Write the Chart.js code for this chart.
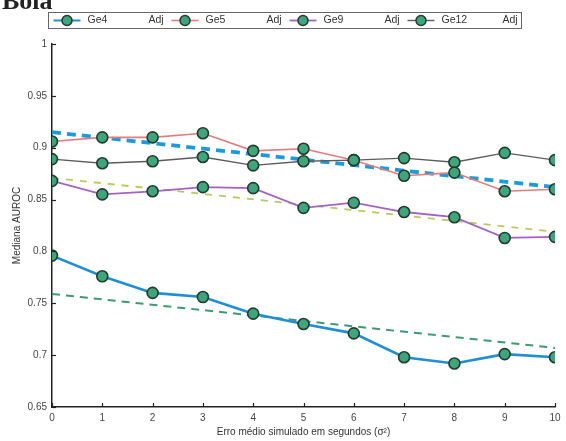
<!DOCTYPE html>
<html>
<head>
<meta charset="utf-8">
<script src="https://cdn.jsdelivr.net/npm/chart.js@4/dist/chart.umd.min.js"></script>
<style>
  html, body { margin: 0; padding: 0; background: #fff; }
  #wrap { width: 566px; height: 441px; position: relative; }
</style>
</head>
<body>
<div id="wrap"><canvas id="grafico"></canvas></div>
<script>
// ================================
// Dados (mediana AUROC por erro simulado)
// ================================
const errosSimulados = [0, 1, 2, 3, 4, 5, 6, 7, 8, 9, 10]
const ge4 = [0.796, 0.776, 0.760, 0.756, 0.740, 0.730, 0.721, 0.698, 0.692, 0.701, 0.698]
const ge5 = [0.906, 0.910, 0.910, 0.914, 0.897, 0.899, 0.888, 0.873, 0.876, 0.858, 0.860]
const ge9 = [0.868, 0.855, 0.858, 0.862, 0.861, 0.842, 0.847, 0.838, 0.833, 0.813, 0.814]
const ge12 = [0.889, 0.885, 0.887, 0.891, 0.883, 0.887, 0.888, 0.890, 0.886, 0.895, 0.888]

// retas ajustadas (extremos)
const ajusteX = [0, 10]
const ge4Adj = [0.759, 0.707]
const ge5Adj = [0.915, 0.862]
const ge9Adj = [0.871, 0.819]

const ticksY = [0.65, 0.7, 0.75, 0.8, 0.85, 0.9, 0.95, 1]
const series = ["Ge4", "Ge5", "Ge9", "Ge12"]

const FONTE = "'Liberation Sans', Arial, sans-serif"
const corMarcador = "#3fa57b"
const corBordaMarcador = "#243a30"

function pontos(xs, ys) {
  return xs.map((x, i) => ({ x: x, y: ys[i] }))
}

function serie(label, ys, cor, largura) {
  return {
    label: label,
    data: pontos(errosSimulados, ys),
    borderColor: cor,
    borderWidth: largura,
    pointRadius: 5.5,
    pointBackgroundColor: corMarcador,
    pointBorderColor: corBordaMarcador,
    pointBorderWidth: 1.6,
    tension: 0,
  }
}

function ajuste(label, ys, cor, largura, traco) {
  return {
    label: label,
    data: pontos(ajusteX, ys),
    borderColor: cor,
    borderWidth: largura,
    borderDash: traco,
    pointRadius: 0,
    tension: 0,
  }
}

// ================================
// Plugin: título, legenda e marcas dos eixos
// ================================
const extras = {
  id: "extras",
  afterDraw(chart) {
    const ctx = chart.ctx
    const { x, y } = chart.scales
    ctx.save()

    // título (cortado no topo)
    ctx.fillStyle = "#222"
    ctx.font = "bold 26px 'Liberation Serif', 'Times New Roman', serif"
    ctx.textBaseline = "alphabetic"
    ctx.textAlign = "left"
    ctx.fillText("Bola", 2, 9)

    // marcas dos eixos para dentro
    ctx.strokeStyle = "#222"
    ctx.lineWidth = 1.2
    ticksY.forEach((v) => {
      const py = Math.round(y.getPixelForValue(v)) + 0.5
      ctx.beginPath()
      ctx.moveTo(x.left, py)
      ctx.lineTo(x.left + 4, py)
      ctx.stroke()
    })
    errosSimulados.forEach((v) => {
      const px = Math.round(x.getPixelForValue(v)) + 0.5
      ctx.beginPath()
      ctx.moveTo(px, y.bottom)
      ctx.lineTo(px, y.bottom - 4)
      ctx.stroke()
    })

    // legenda horizontal: série + "Adj" em cada grupo
    const caixa = { l: 48.5, t: 12.5, r: 521.5, b: 28.5 }
    ctx.fillStyle = "#fff"
    ctx.fillRect(caixa.l, caixa.t, caixa.r - caixa.l, caixa.b - caixa.t)
    ctx.strokeStyle = "#666"
    ctx.lineWidth = 1
    ctx.strokeRect(caixa.l, caixa.t, caixa.r - caixa.l, caixa.b - caixa.t)

    const cy = 20.5
    const passo = 118
    ctx.font = "10.5px " + FONTE
    ctx.textBaseline = "middle"
    series.forEach((nome, i) => {
      const x0 = caixa.l + 5 + passo * i
      const ds = chart.data.datasets[i]
      ctx.strokeStyle = ds.borderColor
      ctx.lineWidth = Math.min(ds.borderWidth, 2)
      ctx.beginPath()
      ctx.moveTo(x0, cy)
      ctx.lineTo(x0 + 27, cy)
      ctx.stroke()
      ctx.beginPath()
      ctx.arc(x0 + 13.5, cy, 5, 0, Math.PI * 2)
      ctx.fillStyle = corMarcador
      ctx.fill()
      ctx.strokeStyle = corBordaMarcador
      ctx.lineWidth = 1.5
      ctx.stroke()

      ctx.fillStyle = "#333"
      ctx.fillText(nome, x0 + 34, cy)
      ctx.fillText("Adj", x0 + 95, cy)
    })

    ctx.restore()
  },
}

// ================================
// Gráfico
// ================================
const ctx = document.getElementById("grafico").getContext("2d")

new Chart(ctx, {
  type: "line",
  data: {
    datasets: [
      serie("Ge4", ge4, "#1f8ed4", 2.6),
      serie("Ge5", ge5, "#e57b7d", 1.6),
      serie("Ge9", ge9, "#a562c2", 1.8),
      serie("Ge12", ge12, "#5c5c5c", 1.4),
      ajuste("Ge5 Adj", ge5Adj, "#1c9bd8", 3.8, [9, 6]),
      ajuste("Ge9 Adj", ge9Adj, "#b9c95e", 1.8, [7, 7]),
      ajuste("Ge4 Adj", ge4Adj, "#3f9a6f", 2, [8, 6]),
    ],
  },
  options: {
    responsive: true,
    maintainAspectRatio: false,
    animation: false,
    layout: { padding: { top: 44, right: 11, left: 0, bottom: 0 } },
    plugins: {
      legend: { display: false },
      tooltip: { enabled: false },
    },
    scales: {
      x: {
        type: "linear",
        min: 0,
        max: 10,
        afterFit: (s) => { s.height = 34 },
        afterBuildTicks: (s) => { s.ticks = errosSimulados.map((v) => ({ value: v })) },
        grid: { display: false, drawTicks: false },
        border: { display: true, color: "#222", width: 1.5 },
        ticks: {
          color: "#444",
          font: { family: FONTE, size: 10 },
          padding: 5,
        },
        title: {
          display: true,
          text: "Erro médio simulado em segundos (σ²)",
          color: "#333",
          font: { family: FONTE, size: 10 },
          padding: { top: 0, bottom: 3 },
        },
      },
      y: {
        min: 0.65,
        max: 1,
        afterFit: (s) => { s.width = 52 },
        afterBuildTicks: (s) => { s.ticks = ticksY.map((v) => ({ value: v })) },
        grid: { display: false, drawTicks: false },
        border: { display: true, color: "#222", width: 1.5 },
        ticks: {
          color: "#444",
          font: { family: FONTE, size: 10 },
          padding: 5,
          callback: (v) => String(+v.toFixed(2)),
        },
        title: {
          display: true,
          text: "Mediana AUROC",
          color: "#333",
          font: { family: FONTE, size: 10 },
          padding: { top: 11, bottom: 0 },
        },
      },
    },
  },
  plugins: [extras],
})
</script>
</body>
</html>
